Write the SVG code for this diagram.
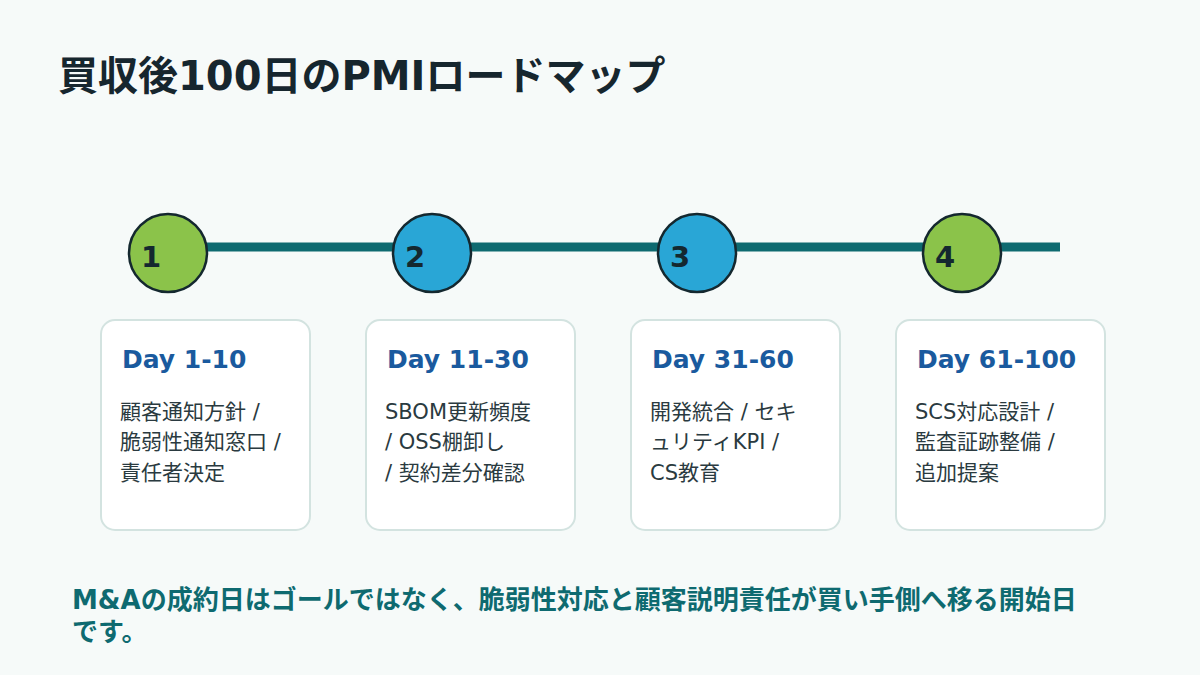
<svg xmlns="http://www.w3.org/2000/svg" width="1200" height="675" viewBox="0 0 1200 675">
<style>
text{font-family:"DejaVu Sans","Noto Sans CJK JP",sans-serif}
.t{font-size:40px;font-weight:700;fill:#16262e}
.c{stroke:#14282f;stroke-width:2.5}
.g{fill:#8bc34a}.b{fill:#29a6d6}
.n{font-size:29px;font-weight:700;fill:#14282f}
.card{fill:#fff;stroke:#d3e3e0;stroke-width:2}
.d{font-size:25px;font-weight:700;fill:#1a5a9e}
.x{font-size:21px;fill:#2a3a40}
.f{font-size:26px;font-weight:700;fill:#0e6a70}
</style>
<rect width="1200" height="675" fill="#f6faf9"/>
<text class="t" x="58" y="90">買収後100日のPMIロードマップ</text>
<g id="connectors"><line x1="168" y1="247" x2="1060" y2="247" stroke="#0e6a70" stroke-width="9"/></g>
<g id="n1"><circle class="c g" cx="168" cy="253" r="39"/><text class="n" x="141" y="267">1</text>
<rect class="card" x="101" y="320" width="209" height="210" rx="14"/><text class="d" x="122" y="368">Day 1-10</text>
<text class="x" x="120" y="419">顧客通知方針 /</text><text class="x" x="120" y="449">脆弱性通知窓口 /</text><text class="x" x="120" y="480"> 責任者決定</text></g>
<g id="n2"><circle class="c b" cx="432" cy="253" r="39"/><text class="n" x="405" y="267">2</text>
<rect class="card" x="366" y="320" width="209" height="210" rx="14"/><text class="d" x="387" y="368">Day 11-30</text>
<text class="x" x="385" y="419">SBOM更新頻度</text><text class="x" x="385" y="449">/ OSS棚卸し</text><text class="x" x="385" y="480">/ 契約差分確認</text></g>
<g id="n3"><circle class="c b" cx="697" cy="253" r="39"/><text class="n" x="670" y="267">3</text>
<rect class="card" x="631" y="320" width="209" height="210" rx="14"/><text class="d" x="652" y="368">Day 31-60</text>
<text class="x" x="650" y="419">開発統合 / セキ</text><text class="x" x="650" y="449">ュリティKPI /</text><text class="x" x="650" y="480"> CS教育</text></g>
<g id="n4"><circle class="c g" cx="962" cy="253" r="39"/><text class="n" x="935" y="267">4</text>
<rect class="card" x="896" y="320" width="209" height="210" rx="14"/><text class="d" x="917" y="368">Day 61-100</text>
<text class="x" x="915" y="419">SCS対応設計 /</text><text class="x" x="915" y="449"> 監査証跡整備 /</text><text class="x" x="915" y="480"> 追加提案</text></g>
<text class="f" x="72" y="609">M&amp;Aの成約日はゴールではなく、脆弱性対応と顧客説明責任が買い手側へ移る開始日</text>
<text class="f" x="72" y="641">です。</text>
</svg>
